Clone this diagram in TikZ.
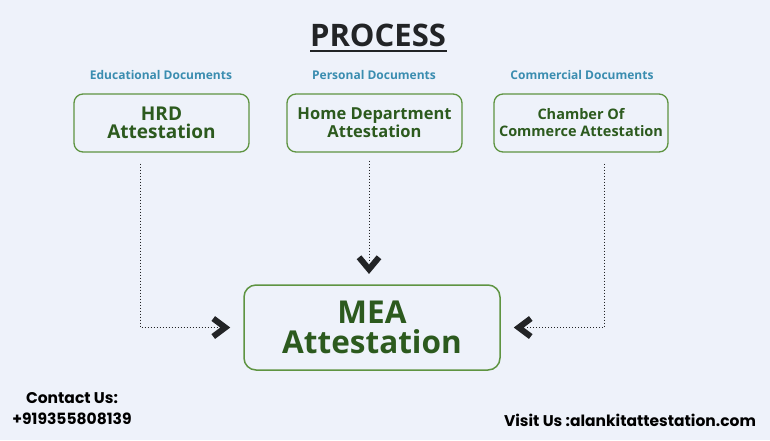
\documentclass[tikz,border=0pt]{standalone}
\usepackage{fontspec}
\setmainfont{Open Sans}
\newfontfamily\contactfont{Poppins}
\usepackage{xcolor}
\usetikzlibrary{positioning, calc, arrows.meta, backgrounds}

\definecolor{bgblue}{HTML}{EEF2FA}
\definecolor{boxgreen}{HTML}{5E9441}
\definecolor{txtgreen}{HTML}{2C5A1E}
\definecolor{labelteal}{HTML}{3A8DB0}
\definecolor{darkgray}{HTML}{222426}

\tikzset{
  stagebox/.style={draw=boxgreen, line width=1.3pt, rounded corners=9pt,
    text=txtgreen, font=\bfseries, align=center, inner sep=0pt},
  doclabel/.style={text=labelteal, font=\bfseries\fontsize{12}{14}\selectfont},
  conn/.style={dotted, line width=1pt, darkgray},
  chevron/.style={line width=6pt, darkgray, miter limit=10},
  footer/.style={font=\contactfont\bfseries\fontsize{15.5}{21}\selectfont, align=center}
}

\begin{document}
\begin{tikzpicture}[x=1pt, y=-1pt]
  \fill[bgblue] (0,0) rectangle (770,440);
  \useasboundingbox (0,0) rectangle (770,440);

  % title
  \node[font=\bfseries\fontsize{31}{34}\selectfont, text=darkgray] (title) at (378,35) {PROCESS};
  \draw[darkgray, line width=1.2pt] (310,51) -- (447,51);

  % document kinds
  \node[doclabel] (edu) at (161,75) {Educational Documents};
  \node[doclabel] (pers) at (374,75) {Personal Documents};
  \node[doclabel] (comm) at (582,75) {Commercial Documents};

  % attestation boxes
  \node[stagebox, minimum width=175pt, minimum height=58pt,
    font=\bfseries\fontsize{19}{18}\selectfont] (hrd) at (161.5,123) {HRD\\Attestation};
  \node[stagebox, minimum width=175pt, minimum height=58pt,
    font=\bfseries\fontsize{16.5}{18}\selectfont] (home) at (374.5,123) {Home Department\\Attestation};
  \node[stagebox, minimum width=174pt, minimum height=58pt,
    font=\bfseries\fontsize{14.5}{17}\selectfont] (cham) at (581,123) {Chamber Of\\Commerce Attestation};

  \node[stagebox, line width=1.5pt, rounded corners=12pt, minimum width=256pt, minimum height=85pt,
    font=\bfseries\fontsize{31.5}{30}\selectfont] (mea) at (372,327.5) {MEA\\Attestation};

  \coordinate (top) at ([xshift=-3pt]mea.north);

  % connectors
  \draw[conn, shorten <=11pt, shorten >=24pt] ([xshift=-21pt]hrd.south) |- (mea.west);
  \draw[conn, shorten <=8pt, shorten >=22pt] (home.south -| top) -- (top);
  \draw[conn, shorten <=11pt, shorten >=26pt] ([xshift=23pt]cham.south) |- (mea.east);

  % arrow heads
  \draw[chevron] ([xshift=-30pt, yshift=-9pt]mea.west) -- ([xshift=-18pt]mea.west) -- ([xshift=-30pt, yshift=9pt]mea.west);
  \draw[chevron] ([xshift=-10pt, yshift=27pt]top) -- ([yshift=15pt]top) -- ([xshift=10pt, yshift=27pt]top);
  \draw[chevron] ([xshift=30pt, yshift=-9pt]mea.east) -- ([xshift=18pt]mea.east) -- ([xshift=30pt, yshift=9pt]mea.east);

  % footer
  \node[footer] (contact) at (72,409) {Contact Us:\\+919355808139};
  \node[footer] (visit) at (630,420) {Visit Us :alankitattestation.com};
\end{tikzpicture}
\end{document}
